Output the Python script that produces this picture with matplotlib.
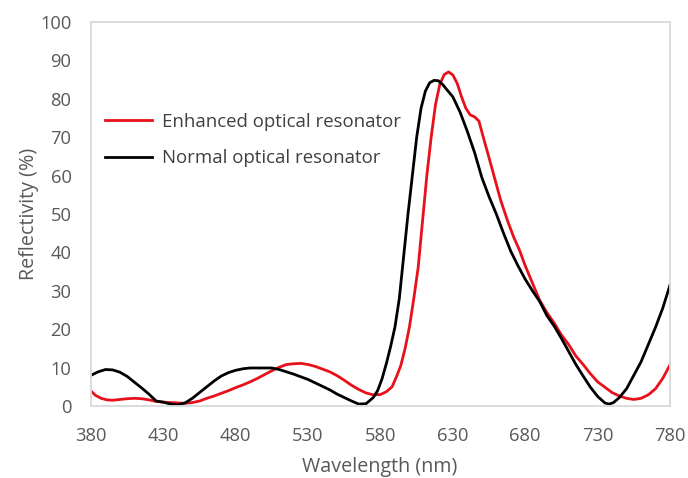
import matplotlib
matplotlib.use("Agg")
import matplotlib.pyplot as plt

# ---- data ----
normal_wl = [380, 385, 390, 395, 400, 405, 410, 415, 420, 425, 430, 435, 440, 445,
             450, 455, 460, 465, 470, 475, 480, 485, 490, 495, 500, 505, 510, 515,
             520, 525, 530, 535, 540, 545, 550, 555, 560, 565, 570, 575, 578, 581,
             584, 587, 590, 593, 596, 599, 602, 605, 608, 611, 614, 617, 620, 623,
             626, 630, 635, 640, 645, 650, 655, 660, 665, 670, 675, 680, 685, 690,
             695, 700, 705, 710, 715, 720, 725, 730, 735, 738, 741, 745, 750, 755,
             760, 765, 770, 775, 780]
normal_r = [8.0, 8.9, 9.5, 9.4, 8.8, 7.7, 6.2, 4.7, 3.1, 1.3, 1.0, 0.5, 0.3, 0.8,
            2.0, 3.5, 5.0, 6.5, 7.8, 8.7, 9.3, 9.7, 9.9, 9.9, 9.9, 9.9, 9.5, 8.9,
            8.3, 7.6, 6.9, 6.0, 5.1, 4.2, 3.1, 2.2, 1.3, 0.5, 0.6, 2.2, 4.0, 7.0,
            11.0, 15.5, 20.6, 28.0, 39.0, 50.0, 60.0, 70.0, 77.5, 82.0, 84.2, 84.8, 84.7, 83.7,
            82.3, 80.5, 76.5, 71.5, 66.0, 59.5, 54.5, 50.0, 45.0, 40.3, 36.5, 33.0, 30.0, 27.2,
            23.5, 20.8, 17.6, 14.2, 10.8, 7.8, 4.9, 2.5, 0.8, 0.5, 0.9, 2.2, 4.5, 8.0,
            11.5, 16.0, 20.5, 25.5, 31.5]

enh_wl = [380, 383, 387, 391, 395, 400, 405, 410, 415, 420, 425, 430, 435, 440,
          445, 450, 455, 460, 465, 470, 475, 480, 485, 490, 495, 500, 505, 510,
          515, 520, 525, 530, 535, 540, 545, 550, 555, 560, 565, 570, 575, 580,
          584, 588, 591, 594, 597, 600, 603, 606, 609, 612, 615, 618, 621, 624,
          627, 630, 633, 636, 639, 642, 645, 648, 651, 654, 658, 663, 668, 672,
          676, 680, 685, 690, 695, 700, 705, 710, 715, 720, 725, 730, 735, 740,
          745, 750, 755, 760, 765, 770, 775, 780]
enh_r = [3.9, 2.8, 2.0, 1.6, 1.5, 1.7, 1.9, 2.0, 1.9, 1.6, 1.2, 1.0, 0.9, 0.8,
         0.7, 0.9, 1.3, 2.0, 2.6, 3.3, 4.0, 4.8, 5.5, 6.3, 7.2, 8.2, 9.2, 10.1,
         10.8, 11.0, 11.1, 10.8, 10.3, 9.6, 8.9, 7.9, 6.7, 5.4, 4.3, 3.4, 2.9, 3.0,
         3.7, 5.0, 7.6, 10.5, 15.0, 20.6, 28.0, 36.0, 48.0, 60.0, 70.0, 78.5, 83.8, 86.3,
         87.0, 86.2, 84.0, 80.5, 77.5, 75.8, 75.3, 74.2, 70.0, 66.0, 60.5, 53.6, 48.0, 44.0,
         40.6, 36.5, 32.0, 27.5, 24.3, 21.6, 18.5, 16.0, 13.0, 10.8, 8.4, 6.3, 4.9, 3.5,
         2.6, 2.0, 1.7, 2.0, 2.9, 4.5, 7.2, 10.7]

x_ticks = [380, 430, 480, 530, 580, 630, 680, 730, 780]
y_ticks = [0, 10, 20, 30, 40, 50, 60, 70, 80, 90, 100]
labels = ["Enhanced optical resonator", "Normal optical resonator"]

plt.rcParams['font.family'] = ['Open Sans', 'DejaVu Sans']

fig = plt.figure(figsize=(6.88, 4.78), dpi=100)
ax = fig.add_axes([91/688, 1 - 406/478, (670-91)/688, (406-22)/478])

ax.plot(enh_wl, enh_r, color='#e8101a', lw=2.0, label=labels[0],
        solid_joinstyle='round')
ax.plot(normal_wl, normal_r, color='black', lw=2.0, label=labels[1],
        solid_joinstyle='round')

ax.set_xlim(380, 780)
ax.set_ylim(0, 100)
ax.set_xticks(x_ticks)
ax.set_yticks(y_ticks)
ax.tick_params(length=0, labelsize=13.2, colors='#595959')
ax.tick_params(axis='x', pad=15)
ax.tick_params(axis='y', pad=14)
for s in ax.spines.values():
    s.set_color('#d9d9d9')
    s.set_linewidth(1.3)

ax.set_xlabel("Wavelength (nm)", fontsize=14.2, color='#595959')
ax.set_ylabel("Reflectivity (%)", fontsize=14.2, color='#595959')
ax.xaxis.set_label_coords(0.499, -0.133)
ax.yaxis.set_label_coords(-0.09, 0.5)

leg = ax.legend(frameon=False, loc='upper left', bbox_to_anchor=(0.0, 0.80),
                fontsize=13.4, handlelength=2.53, handletextpad=0.54,
                labelspacing=1.0, borderaxespad=0.0, borderpad=0.75)
for t in leg.get_texts():
    t.set_color('#404040')

fig.savefig("out.png", dpi=100)
